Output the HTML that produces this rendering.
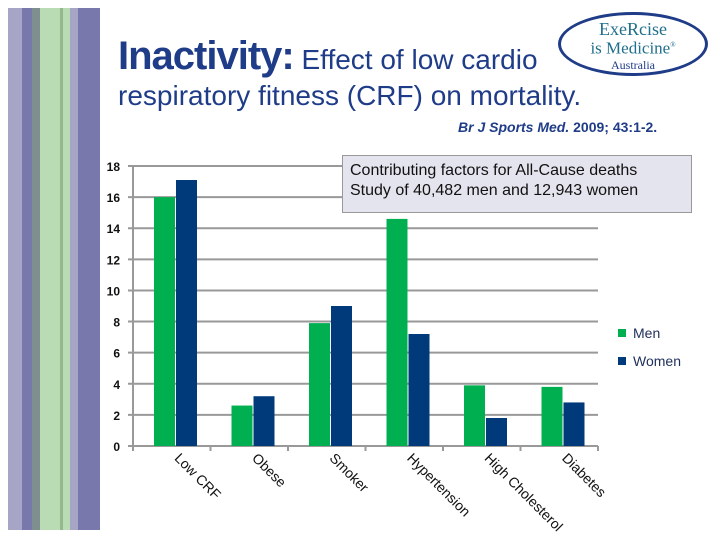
<!DOCTYPE html>
<html><head><meta charset="utf-8"><style>
body{margin:0;width:720px;height:540px;background:#fff;overflow:hidden;position:relative;font-family:"Liberation Sans",sans-serif}
.s{position:absolute;top:8px;height:522px}
</style></head><body>
<div>
<div class="s" style="left:8px;width:14px;background:#a7a5c6"></div>
<div class="s" style="left:22px;width:10px;background:#7878ad"></div>
<div class="s" style="left:32px;width:8px;background:#7f8f8f"></div>
<div class="s" style="left:40px;width:20px;background:#b9dcb5"></div>
<div class="s" style="left:60px;width:3px;background:#93b98c"></div>
<div class="s" style="left:63px;width:7px;background:#b9dcb5"></div>
<div class="s" style="left:70px;width:8px;background:#a7a5c6"></div>
<div class="s" style="left:78px;width:22px;background:#7878ad"></div>
</div>
<div style="position:absolute;left:118px;top:34px;color:#1f3c88;white-space:nowrap">
<span style="font-size:40px;font-weight:bold;letter-spacing:-1px">Inactivity:</span><span style="font-size:28px"> Effect of low cardio</span></div>
<div style="position:absolute;left:118px;top:80px;color:#1f3c88;font-size:28px;white-space:nowrap">respiratory fitness (CRF) on mortality.</div>
<div style="position:absolute;left:458px;top:119px;color:#1f3c88;font-size:14px;font-weight:bold;white-space:nowrap"><i>Br J Sports Med.</i> 2009; 43:1-2.</div>
<div style="position:absolute;left:558px;top:12px;width:150px;height:64px;border:3px solid #1f3c88;border-radius:50%;box-sizing:border-box;text-align:center;color:#1f6e8c;font-family:'Liberation Serif',serif;line-height:16px;padding-top:6px">
<div style="font-size:18px">ExeRcise</div><div style="font-size:17px">is Medicine<sup style="font-size:7px">®</sup></div><div style="font-size:12px;color:#1f3c88">Australia</div></div>
<svg id="chart" width="720" height="540" style="position:absolute;left:0;top:0"></svg>
<div style="position:absolute;left:342px;top:155px;width:350px;height:58px;background:#e4e4ee;border:1px solid #999;box-sizing:border-box;padding:5px 0 0 7px;font-size:16px;line-height:20px;color:#111">Contributing factors for All-Cause deaths<br>Study of 40,482 men and 12,943 women</div>
<script>
const categories=["Low CRF","Obese","Smoker","Hypertension","High Cholesterol","Diabetes"];
const menValues=[16,2.6,7.9,14.6,3.9,3.8];
const womenValues=[17.1,3.2,9.0,7.2,1.8,2.8];
const yTicks=[0,2,4,6,8,10,12,14,16,18];
const svg=document.getElementById('chart');const NS='http://www.w3.org/2000/svg';
const x0=133,x1=598,y0=446,y18=166,ymax=18;
const Y=v=>y0-(v/ymax)*(y0-y18);
const gw=(x1-x0)/categories.length;
function el(t,a){const e=document.createElementNS(NS,t);for(const k in a)e.setAttribute(k,a[k]);svg.appendChild(e);return e;}
yTicks.forEach(t=>{
 const l=el('line',{x1:x0-5,x2:x1,y1:Y(t),y2:Y(t),stroke:'#999','stroke-width':2});
 
 
 const tx=el('text',{x:120,y:Y(t)+5,'text-anchor':'end','font-size':12,fill:'#111','font-weight':'bold'});
 tx.textContent=t;
 
 
});
const ax=el('line',{x1:x0,x2:x0,y1:y18,y2:y0,stroke:'#999','stroke-width':2});


for(let i=0;i<=categories.length;i++){const t=el('line',{x1:x0+i*gw,x2:x0+i*gw,y1:y0,y2:y0+5,stroke:'#999','stroke-width':2});
 
 }
categories.forEach((c,i)=>{
 const gx=x0+i*gw;
 const bm=el('rect',{x:gx+21,y:Y(menValues[i]),width:21,height:y0-Y(menValues[i]),fill:'#00b050'});
 
 
 const bw=el('rect',{x:gx+43,y:Y(womenValues[i]),width:21,height:y0-Y(womenValues[i]),fill:'#003a7a'});
 
 
 const lx=gx+gw/2+2,ly=y0+13;
 const tx=el('text',{x:lx,y:ly,'font-size':14,fill:'#111',transform:`rotate(45 ${lx} ${ly})`});
 tx.textContent=c;
 
 
});
[['Men','#00b050',333],['Women','#003a7a',361]].forEach(([n,c,y])=>{
 const r=el('rect',{x:618,y:y-4,width:8,height:8,fill:c});
 
 
 const t=el('text',{x:633,y:y+5,'font-size':14,fill:'#1f2f5a'});t.textContent=n;
 
 
});
</script>
</body></html>
